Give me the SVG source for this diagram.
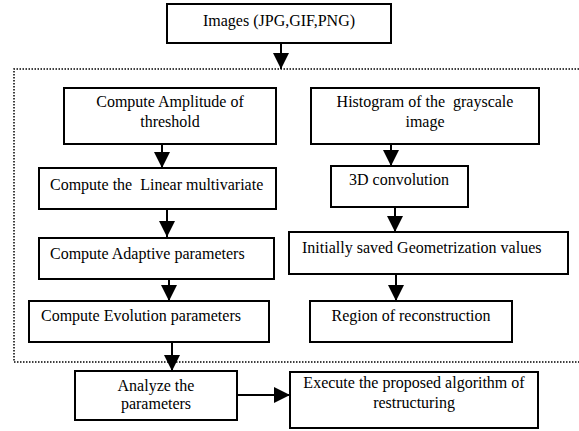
<svg xmlns="http://www.w3.org/2000/svg" width="579" height="431" viewBox="0 0 579 431">
<style>
.box{fill:#fff;stroke:#000;stroke-width:2}
text{font-family:'Liberation Serif','Times New Roman',Times,serif;font-size:16px;fill:#000}
.c{text-anchor:middle}
.con{stroke:#000;stroke-width:2;fill:none}
.dot{stroke:#000;stroke-width:1.5;fill:none;stroke-dasharray:1.5 1.5}
</style>
<defs>
<marker id="ah" markerUnits="userSpaceOnUse" markerWidth="16" markerHeight="16" viewBox="0 0 16 16" refX="16" refY="8" orient="auto">
<path d="M0,0 L16,8 L0,16 Z" fill="#000"/>
</marker>
</defs>
<rect width="579" height="431" fill="#fff"/>
<path class="dot" d="M579,69 H14 V362 H579"/>
<g id="connectors">
<line class="con" x1="281" y1="43" x2="281" y2="69" marker-end="url(#ah)"/>
<line class="con" x1="162" y1="144" x2="162" y2="168" marker-end="url(#ah)"/>
<line class="con" x1="167" y1="209" x2="167" y2="237" marker-end="url(#ah)"/>
<line class="con" x1="169" y1="279" x2="169" y2="301" marker-end="url(#ah)"/>
<line class="con" x1="172" y1="342" x2="172" y2="371" marker-end="url(#ah)"/>
<line class="con" x1="237" y1="395" x2="290" y2="395" marker-end="url(#ah)"/>
<line class="con" x1="391" y1="144" x2="391" y2="166" marker-end="url(#ah)"/>
<line class="con" x1="395" y1="207" x2="395" y2="232" marker-end="url(#ah)"/>
<line class="con" x1="396" y1="274" x2="396" y2="301" marker-end="url(#ah)"/>
</g>
<g font-family="Liberation Serif, serif">
<g id="images"><rect class="box" x="167" y="4" width="224" height="39"/><text class="c" x="279" y="26">Images (JPG,GIF,PNG)</text></g>
<g id="amplitude"><rect class="box" x="64" y="88" width="212" height="56"/><text class="c" x="170" y="107">Compute Amplitude of</text><text class="c" x="170" y="127">threshold</text></g>
<g id="linear"><rect class="box" x="39" y="168" width="237" height="41"/><text x="50" y="190" xml:space="preserve">Compute the  Linear multivariate</text></g>
<g id="adaptive"><rect class="box" x="39" y="238" width="235" height="41"/><text x="50" y="259">Compute Adaptive parameters</text></g>
<g id="evolution"><rect class="box" x="29" y="301" width="240" height="41"/><text x="41" y="321">Compute Evolution parameters</text></g>
<g id="analyze"><rect class="box" x="75" y="371" width="162" height="49"/><text class="c" x="156" y="391">Analyze the</text><text class="c" x="156" y="409">parameters</text></g>
<g id="execute"><rect class="box" x="290" y="372" width="248" height="56"/><text class="c" x="414" y="388">Execute the proposed algorithm of</text><text class="c" x="414" y="408">restructuring</text></g>
<g id="histogram"><rect class="box" x="311" y="88" width="228" height="56"/><text class="c" x="425" y="107" xml:space="preserve">Histogram of the  grayscale</text><text class="c" x="425" y="127">image</text></g>
<g id="conv3d"><rect class="box" x="331" y="166" width="137" height="41"/><text class="c" x="399" y="185">3D convolution</text></g>
<g id="geometrization"><rect class="box" x="289" y="232" width="279" height="42"/><text x="302" y="253">Initially saved Geometrization values</text></g>
<g id="region"><rect class="box" x="310" y="301" width="202" height="41"/><text class="c" x="411" y="321">Region of reconstruction</text></g>
</g>
</svg>
